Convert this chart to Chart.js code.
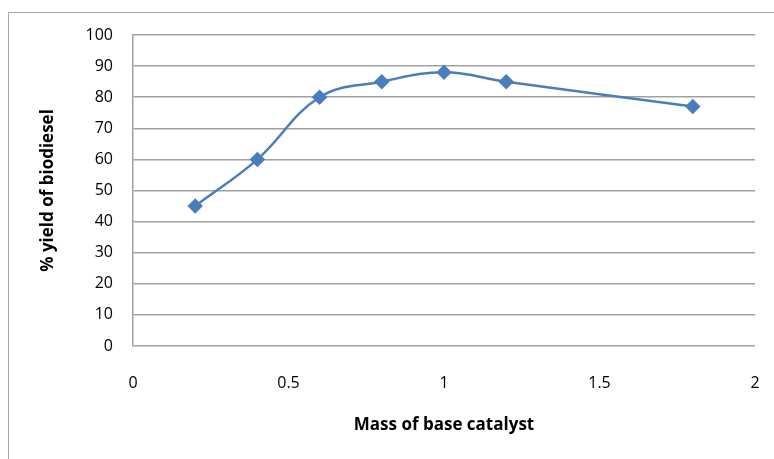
<!DOCTYPE html>
<html>
<head>
<meta charset="utf-8">
<script src="https://cdn.jsdelivr.net/npm/chart.js@4"></script>
<style>
  body { margin: 0; background: #fff; }
  #wrap { position: relative; width: 774px; height: 459px; }
  #frame {
    position: absolute; left: 8px; top: 12px; width: 800px; height: 500px;
    border-left: 1.5px solid #a6a6a6; border-top: 1.5px solid #a6a6a6;
  }
  canvas { position: absolute; left: 0; top: 0; }
</style>
</head>
<body>
<div id="wrap">
  <div id="frame"></div>
  <canvas id="yield-canvas" width="774" height="459"></canvas>
</div>
<script>
// data
const catalystMass = [0.2, 0.4, 0.6, 0.8, 1, 1.2, 1.8];
const yieldPercent = [45, 60, 80, 85, 88, 85, 77];

const lineColor = "#4A7EBB";
const gridColor = "#a0a0a0";
const tickFont = { family: "Open Sans", size: 16 };
const titleFont = { family: "Open Sans", size: 17, weight: "bold" };

new Chart(document.getElementById("yield-canvas"), {
  type: "line",
  data: {
    datasets: [
      {
        label: "% yield",
        data: catalystMass.map((x, i) => ({ x: x, y: yieldPercent[i] })),
        borderColor: lineColor,
        backgroundColor: lineColor,
        borderWidth: 2.5,
        pointStyle: "rectRot",
        pointRadius: 6,
        tension: 0.4,
      },
    ],
  },
  options: {
    responsive: false,
    animation: false,
    layout: {
      padding: { left: 8, right: 19, top: 35, bottom: 0 },
    },
    scales: {
      x: {
        type: "linear",
        min: 0,
        max: 2,
        ticks: {
          stepSize: 0.5,
          color: "#000",
          font: tickFont,
          padding: 20,
          callback: (v) => String(v),
        },
        grid: { display: false },
        border: { display: false },
        title: {
          display: true,
          text: "Mass of base catalyst",
          color: "#000",
          font: titleFont,
          padding: { top: 10, bottom: 24 },
        },
        afterFit: (axis) => {
          axis.height = 113;
          axis.paddingLeft = 0;
          axis.paddingRight = 0;
        },
      },
      y: {
        min: 0,
        max: 100,
        ticks: { stepSize: 10, color: "#000", font: tickFont, padding: 20 },
        grid: { color: gridColor, lineWidth: 1.5, drawTicks: false },
        border: { color: gridColor, width: 1.5 },
        title: {
          display: true,
          text: "% yield of biodiesel",
          color: "#000",
          font: titleFont,
          padding: { top: 30, bottom: 0 },
        },
        afterFit: (axis) => {
          axis.width = 125;
          axis.paddingTop = 0;
          axis.paddingBottom = 0;
        },
      },
    },
    plugins: {
      legend: { display: false },
      tooltip: { enabled: false },
    },
  },
});
</script>
</body>
</html>
